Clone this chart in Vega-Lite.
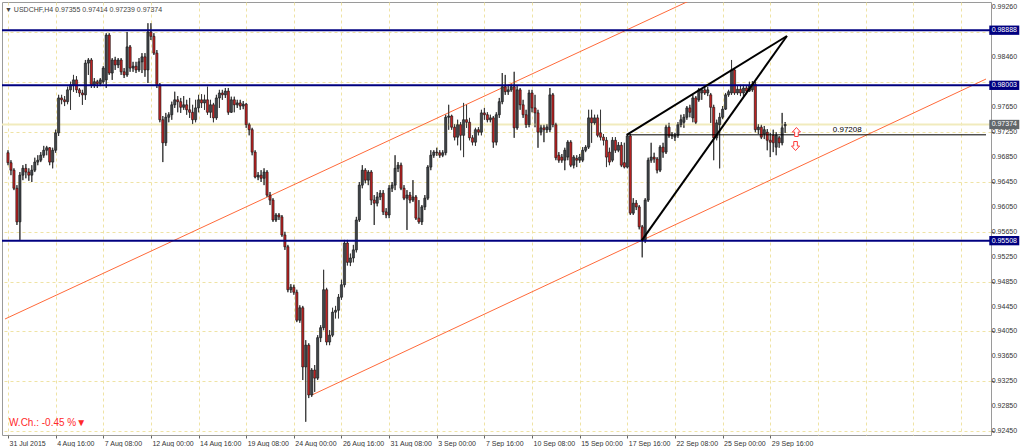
{
  "$schema": "https://vega.github.io/schema/vega-lite/v6.json",
  "width": 989,
  "height": 433,
  "autosize": "none",
  "padding": {"left": 2, "top": 2, "right": 33, "bottom": 12},
  "background": "white",
  "title": {"text": "▼ USDCHF,H4  0.97355 0.97414 0.97239 0.97374", "anchor": "start", "frame": "group", "orient": "top", "offset": -11, "dx": 3, "font": "Liberation Sans", "fontSize": 7, "fontWeight": "normal", "color": "#444444"},
  "config": {"view": {"stroke": "#9a9a9a", "strokeWidth": 1}, "text": {"font": "Liberation Sans"}, "axis": {"labelOverlap": false, "labelBound": false}},
  "datasets": {
    "candles": [
      {"i":0,"o":0.9692,"h":0.9696,"l":0.9672,"c":0.9676},
      {"i":1,"o":0.9676,"h":0.9680,"l":0.9656,"c":0.9664},
      {"i":2,"o":0.9664,"h":0.9667,"l":0.9632,"c":0.9635},
      {"i":3,"o":0.9635,"h":0.9640,"l":0.9576,"c":0.9581},
      {"i":4,"o":0.9581,"h":0.9661,"l":0.9552,"c":0.9656},
      {"i":5,"o":0.9656,"h":0.9672,"l":0.9648,"c":0.9667},
      {"i":6,"o":0.9667,"h":0.9674,"l":0.9651,"c":0.9661},
      {"i":7,"o":0.9661,"h":0.9667,"l":0.9647,"c":0.9656},
      {"i":8,"o":0.9656,"h":0.9672,"l":0.9645,"c":0.9664},
      {"i":9,"o":0.9664,"h":0.9684,"l":0.9661,"c":0.9677},
      {"i":10,"o":0.9677,"h":0.9688,"l":0.9672,"c":0.9680},
      {"i":11,"o":0.9680,"h":0.9693,"l":0.9677,"c":0.9688},
      {"i":12,"o":0.9688,"h":0.9703,"l":0.9684,"c":0.9696},
      {"i":13,"o":0.9696,"h":0.9703,"l":0.9688,"c":0.9700},
      {"i":14,"o":0.9700,"h":0.9701,"l":0.9672,"c":0.9677},
      {"i":15,"o":0.9677,"h":0.9700,"l":0.9667,"c":0.9696},
      {"i":16,"o":0.9696,"h":0.9729,"l":0.9692,"c":0.9724},
      {"i":17,"o":0.9724,"h":0.9785,"l":0.9719,"c":0.9780},
      {"i":18,"o":0.9780,"h":0.9785,"l":0.9770,"c":0.9777},
      {"i":19,"o":0.9777,"h":0.9783,"l":0.9767,"c":0.9774},
      {"i":20,"o":0.9774,"h":0.9798,"l":0.9770,"c":0.9793},
      {"i":21,"o":0.9793,"h":0.9806,"l":0.9761,"c":0.9801},
      {"i":22,"o":0.9801,"h":0.9817,"l":0.9790,"c":0.9809},
      {"i":23,"o":0.9809,"h":0.9815,"l":0.9788,"c":0.9793},
      {"i":24,"o":0.9793,"h":0.9796,"l":0.9782,"c":0.9788},
      {"i":25,"o":0.9788,"h":0.9793,"l":0.9769,"c":0.9785},
      {"i":26,"o":0.9785,"h":0.9841,"l":0.9777,"c":0.9836},
      {"i":27,"o":0.9836,"h":0.9844,"l":0.9817,"c":0.9841},
      {"i":28,"o":0.9841,"h":0.9844,"l":0.9796,"c":0.9801},
      {"i":29,"o":0.9801,"h":0.9812,"l":0.9796,"c":0.9806},
      {"i":30,"o":0.9806,"h":0.9809,"l":0.9796,"c":0.9803},
      {"i":31,"o":0.9803,"h":0.9812,"l":0.9799,"c":0.9809},
      {"i":32,"o":0.9806,"h":0.9831,"l":0.9803,"c":0.9828},
      {"i":33,"o":0.9809,"h":0.9884,"l":0.9796,"c":0.9881},
      {"i":34,"o":0.9881,"h":0.9884,"l":0.9817,"c":0.9820},
      {"i":35,"o":0.9820,"h":0.9844,"l":0.9809,"c":0.9841},
      {"i":36,"o":0.9841,"h":0.9846,"l":0.9825,"c":0.9833},
      {"i":37,"o":0.9833,"h":0.9844,"l":0.9828,"c":0.9841},
      {"i":38,"o":0.9841,"h":0.9844,"l":0.9817,"c":0.9822},
      {"i":39,"o":0.9822,"h":0.9828,"l":0.9812,"c":0.9817},
      {"i":40,"o":0.9817,"h":0.9886,"l":0.9814,"c":0.9862},
      {"i":41,"o":0.9862,"h":0.9865,"l":0.9822,"c":0.9828},
      {"i":42,"o":0.9828,"h":0.9838,"l":0.9822,"c":0.9831},
      {"i":43,"o":0.9831,"h":0.9838,"l":0.9820,"c":0.9825},
      {"i":44,"o":0.9825,"h":0.9844,"l":0.9822,"c":0.9838},
      {"i":45,"o":0.9838,"h":0.9852,"l":0.9820,"c":0.9846},
      {"i":46,"o":0.9846,"h":0.9852,"l":0.9814,"c":0.9825},
      {"i":47,"o":0.9825,"h":0.9900,"l":0.9804,"c":0.9886},
      {"i":48,"o":0.9886,"h":0.9900,"l":0.9873,"c":0.9879},
      {"i":49,"o":0.9879,"h":0.9884,"l":0.9849,"c":0.9852},
      {"i":50,"o":0.9852,"h":0.9857,"l":0.9796,"c":0.9801},
      {"i":51,"o":0.9801,"h":0.9804,"l":0.9741,"c":0.9745},
      {"i":52,"o":0.9745,"h":0.9751,"l":0.9677,"c":0.9708},
      {"i":53,"o":0.9708,"h":0.9756,"l":0.9703,"c":0.9749},
      {"i":54,"o":0.9749,"h":0.9757,"l":0.9741,"c":0.9753},
      {"i":55,"o":0.9753,"h":0.9774,"l":0.9745,"c":0.9769},
      {"i":56,"o":0.9769,"h":0.9790,"l":0.9764,"c":0.9777},
      {"i":57,"o":0.9777,"h":0.9783,"l":0.9757,"c":0.9774},
      {"i":58,"o":0.9774,"h":0.9780,"l":0.9756,"c":0.9765},
      {"i":59,"o":0.9765,"h":0.9783,"l":0.9761,"c":0.9769},
      {"i":60,"o":0.9769,"h":0.9777,"l":0.9753,"c":0.9761},
      {"i":61,"o":0.9761,"h":0.9780,"l":0.9748,"c":0.9757},
      {"i":62,"o":0.9757,"h":0.9769,"l":0.9738,"c":0.9745},
      {"i":63,"o":0.9745,"h":0.9777,"l":0.9741,"c":0.9764},
      {"i":64,"o":0.9764,"h":0.9785,"l":0.9757,"c":0.9777},
      {"i":65,"o":0.9777,"h":0.9786,"l":0.9764,"c":0.9772},
      {"i":66,"o":0.9772,"h":0.9785,"l":0.9761,"c":0.9777},
      {"i":67,"o":0.9777,"h":0.9798,"l":0.9753,"c":0.9757},
      {"i":68,"o":0.9757,"h":0.9777,"l":0.9748,"c":0.9769},
      {"i":69,"o":0.9769,"h":0.9772,"l":0.9741,"c":0.9748},
      {"i":70,"o":0.9748,"h":0.9785,"l":0.9745,"c":0.9780},
      {"i":71,"o":0.9780,"h":0.9793,"l":0.9764,"c":0.9788},
      {"i":72,"o":0.9788,"h":0.9793,"l":0.9777,"c":0.9785},
      {"i":73,"o":0.9785,"h":0.9796,"l":0.9780,"c":0.9791},
      {"i":74,"o":0.9791,"h":0.9796,"l":0.9753,"c":0.9757},
      {"i":75,"o":0.9757,"h":0.9782,"l":0.9756,"c":0.9777},
      {"i":76,"o":0.9777,"h":0.9782,"l":0.9757,"c":0.9769},
      {"i":77,"o":0.9769,"h":0.9777,"l":0.9764,"c":0.9772},
      {"i":78,"o":0.9772,"h":0.9777,"l":0.9761,"c":0.9767},
      {"i":79,"o":0.9767,"h":0.9775,"l":0.9762,"c":0.9770},
      {"i":80,"o":0.9770,"h":0.9772,"l":0.9732,"c":0.9737},
      {"i":81,"o":0.9737,"h":0.9740,"l":0.9720,"c":0.9729},
      {"i":82,"o":0.9729,"h":0.9732,"l":0.9688,"c":0.9693},
      {"i":83,"o":0.9693,"h":0.9696,"l":0.9651,"c":0.9653},
      {"i":84,"o":0.9653,"h":0.9661,"l":0.9648,"c":0.9656},
      {"i":85,"o":0.9656,"h":0.9664,"l":0.9645,"c":0.9651},
      {"i":86,"o":0.9651,"h":0.9667,"l":0.9640,"c":0.9661},
      {"i":87,"o":0.9661,"h":0.9664,"l":0.9621,"c":0.9624},
      {"i":88,"o":0.9624,"h":0.9629,"l":0.9608,"c":0.9616},
      {"i":89,"o":0.9616,"h":0.9619,"l":0.9581,"c":0.9584},
      {"i":90,"o":0.9584,"h":0.9595,"l":0.9581,"c":0.9592},
      {"i":91,"o":0.9592,"h":0.9595,"l":0.9584,"c":0.9589},
      {"i":92,"o":0.9589,"h":0.9592,"l":0.9557,"c":0.9560},
      {"i":93,"o":0.9560,"h":0.9565,"l":0.9536,"c":0.9541},
      {"i":94,"o":0.9541,"h":0.9544,"l":0.9468,"c":0.9472},
      {"i":95,"o":0.9472,"h":0.9481,"l":0.9467,"c":0.9476},
      {"i":96,"o":0.9476,"h":0.9480,"l":0.9464,"c":0.9468},
      {"i":97,"o":0.9468,"h":0.9472,"l":0.9420,"c":0.9423},
      {"i":98,"o":0.9423,"h":0.9447,"l":0.9419,"c":0.9443},
      {"i":99,"o":0.9443,"h":0.9446,"l":0.9327,"c":0.9348},
      {"i":100,"o":0.9348,"h":0.9391,"l":0.9260,"c":0.9383},
      {"i":101,"o":0.9383,"h":0.9386,"l":0.9298,"c":0.9303},
      {"i":102,"o":0.9303,"h":0.9346,"l":0.9300,"c":0.9343},
      {"i":103,"o":0.9343,"h":0.9351,"l":0.9308,"c":0.9330},
      {"i":104,"o":0.9330,"h":0.9399,"l":0.9327,"c":0.9395},
      {"i":105,"o":0.9395,"h":0.9415,"l":0.9388,"c":0.9411},
      {"i":106,"o":0.9411,"h":0.9504,"l":0.9407,"c":0.9472},
      {"i":107,"o":0.9472,"h":0.9475,"l":0.9383,"c":0.9388},
      {"i":108,"o":0.9388,"h":0.9407,"l":0.9383,"c":0.9399},
      {"i":109,"o":0.9399,"h":0.9443,"l":0.9396,"c":0.9436},
      {"i":110,"o":0.9436,"h":0.9446,"l":0.9426,"c":0.9439},
      {"i":111,"o":0.9439,"h":0.9465,"l":0.9426,"c":0.9460},
      {"i":112,"o":0.9460,"h":0.9488,"l":0.9456,"c":0.9480},
      {"i":113,"o":0.9480,"h":0.9552,"l":0.9476,"c":0.9547},
      {"i":114,"o":0.9547,"h":0.9552,"l":0.9511,"c":0.9516},
      {"i":115,"o":0.9516,"h":0.9530,"l":0.9510,"c":0.9523},
      {"i":116,"o":0.9523,"h":0.9544,"l":0.9516,"c":0.9536},
      {"i":117,"o":0.9536,"h":0.9589,"l":0.9532,"c":0.9584},
      {"i":118,"o":0.9584,"h":0.9645,"l":0.9581,"c":0.9640},
      {"i":119,"o":0.9640,"h":0.9672,"l":0.9635,"c":0.9664},
      {"i":120,"o":0.9664,"h":0.9667,"l":0.9643,"c":0.9648},
      {"i":121,"o":0.9648,"h":0.9664,"l":0.9640,"c":0.9661},
      {"i":122,"o":0.9661,"h":0.9664,"l":0.9608,"c":0.9616},
      {"i":123,"o":0.9616,"h":0.9624,"l":0.9576,"c":0.9611},
      {"i":124,"o":0.9611,"h":0.9629,"l":0.9606,"c":0.9621},
      {"i":125,"o":0.9621,"h":0.9632,"l":0.9616,"c":0.9627},
      {"i":126,"o":0.9627,"h":0.9632,"l":0.9592,"c":0.9597},
      {"i":127,"o":0.9597,"h":0.9603,"l":0.9587,"c":0.9592},
      {"i":128,"o":0.9592,"h":0.9640,"l":0.9587,"c":0.9635},
      {"i":129,"o":0.9635,"h":0.9645,"l":0.9629,"c":0.9640},
      {"i":130,"o":0.9640,"h":0.9688,"l":0.9632,"c":0.9667},
      {"i":131,"o":0.9667,"h":0.9677,"l":0.9661,"c":0.9672},
      {"i":132,"o":0.9672,"h":0.9676,"l":0.9632,"c":0.9635},
      {"i":133,"o":0.9635,"h":0.9640,"l":0.9616,"c":0.9619},
      {"i":134,"o":0.9619,"h":0.9632,"l":0.9568,"c":0.9624},
      {"i":135,"o":0.9624,"h":0.9629,"l":0.9611,"c":0.9616},
      {"i":136,"o":0.9616,"h":0.9648,"l":0.9613,"c":0.9621},
      {"i":137,"o":0.9621,"h":0.9624,"l":0.9584,"c":0.9587},
      {"i":138,"o":0.9587,"h":0.9616,"l":0.9578,"c":0.9581},
      {"i":139,"o":0.9581,"h":0.9608,"l":0.9576,"c":0.9605},
      {"i":140,"o":0.9605,"h":0.9624,"l":0.9600,"c":0.9619},
      {"i":141,"o":0.9619,"h":0.9672,"l":0.9616,"c":0.9669},
      {"i":142,"o":0.9669,"h":0.9696,"l":0.9664,"c":0.9688},
      {"i":143,"o":0.9688,"h":0.9696,"l":0.9684,"c":0.9693},
      {"i":144,"o":0.9693,"h":0.9700,"l":0.9687,"c":0.9692},
      {"i":145,"o":0.9692,"h":0.9696,"l":0.9684,"c":0.9688},
      {"i":146,"o":0.9688,"h":0.9696,"l":0.9685,"c":0.9692},
      {"i":147,"o":0.9692,"h":0.9753,"l":0.9688,"c":0.9749},
      {"i":148,"o":0.9749,"h":0.9769,"l":0.9729,"c":0.9751},
      {"i":149,"o":0.9751,"h":0.9753,"l":0.9729,"c":0.9733},
      {"i":150,"o":0.9733,"h":0.9738,"l":0.9712,"c":0.9717},
      {"i":151,"o":0.9717,"h":0.9745,"l":0.9704,"c":0.9737},
      {"i":152,"o":0.9737,"h":0.9741,"l":0.9696,"c":0.9720},
      {"i":153,"o":0.9720,"h":0.9772,"l":0.9685,"c":0.9745},
      {"i":154,"o":0.9745,"h":0.9769,"l":0.9732,"c":0.9741},
      {"i":155,"o":0.9741,"h":0.9748,"l":0.9712,"c":0.9716},
      {"i":156,"o":0.9716,"h":0.9720,"l":0.9704,"c":0.9709},
      {"i":157,"o":0.9709,"h":0.9732,"l":0.9703,"c":0.9729},
      {"i":158,"o":0.9729,"h":0.9733,"l":0.9720,"c":0.9725},
      {"i":159,"o":0.9725,"h":0.9761,"l":0.9720,"c":0.9756},
      {"i":160,"o":0.9756,"h":0.9764,"l":0.9745,"c":0.9753},
      {"i":161,"o":0.9753,"h":0.9757,"l":0.9741,"c":0.9745},
      {"i":162,"o":0.9745,"h":0.9753,"l":0.9741,"c":0.9748},
      {"i":163,"o":0.9748,"h":0.9751,"l":0.9700,"c":0.9709},
      {"i":164,"o":0.9709,"h":0.9757,"l":0.9704,"c":0.9753},
      {"i":165,"o":0.9753,"h":0.9780,"l":0.9748,"c":0.9774},
      {"i":166,"o":0.9774,"h":0.9820,"l":0.9770,"c":0.9798},
      {"i":167,"o":0.9798,"h":0.9817,"l":0.9785,"c":0.9790},
      {"i":168,"o":0.9790,"h":0.9799,"l":0.9785,"c":0.9793},
      {"i":169,"o":0.9793,"h":0.9802,"l":0.9790,"c":0.9798},
      {"i":170,"o":0.9798,"h":0.9822,"l":0.9716,"c":0.9732},
      {"i":171,"o":0.9732,"h":0.9799,"l":0.9729,"c":0.9793},
      {"i":172,"o":0.9793,"h":0.9796,"l":0.9761,"c":0.9769},
      {"i":173,"o":0.9769,"h":0.9777,"l":0.9748,"c":0.9753},
      {"i":174,"o":0.9753,"h":0.9761,"l":0.9732,"c":0.9737},
      {"i":175,"o":0.9737,"h":0.9793,"l":0.9733,"c":0.9788},
      {"i":176,"o":0.9788,"h":0.9793,"l":0.9757,"c":0.9764},
      {"i":177,"o":0.9764,"h":0.9785,"l":0.9733,"c":0.9756},
      {"i":178,"o":0.9756,"h":0.9761,"l":0.9700,"c":0.9725},
      {"i":179,"o":0.9725,"h":0.9737,"l":0.9720,"c":0.9732},
      {"i":180,"o":0.9732,"h":0.9737,"l":0.9709,"c":0.9729},
      {"i":181,"o":0.9729,"h":0.9738,"l":0.9724,"c":0.9733},
      {"i":182,"o":0.9729,"h":0.9796,"l":0.9725,"c":0.9785},
      {"i":183,"o":0.9785,"h":0.9788,"l":0.9733,"c":0.9737},
      {"i":184,"o":0.9737,"h":0.9740,"l":0.9680,"c":0.9684},
      {"i":185,"o":0.9688,"h":0.9693,"l":0.9676,"c":0.9680},
      {"i":186,"o":0.9685,"h":0.9690,"l":0.9676,"c":0.9680},
      {"i":187,"o":0.9680,"h":0.9700,"l":0.9664,"c":0.9696},
      {"i":188,"o":0.9685,"h":0.9712,"l":0.9680,"c":0.9709},
      {"i":189,"o":0.9709,"h":0.9712,"l":0.9669,"c":0.9672},
      {"i":190,"o":0.9672,"h":0.9688,"l":0.9667,"c":0.9685},
      {"i":191,"o":0.9683,"h":0.9688,"l":0.9669,"c":0.9680},
      {"i":192,"o":0.9680,"h":0.9690,"l":0.9676,"c":0.9685},
      {"i":193,"o":0.9680,"h":0.9701,"l":0.9677,"c":0.9696},
      {"i":194,"o":0.9696,"h":0.9704,"l":0.9693,"c":0.9701},
      {"i":195,"o":0.9701,"h":0.9761,"l":0.9698,"c":0.9748},
      {"i":196,"o":0.9748,"h":0.9761,"l":0.9708,"c":0.9740},
      {"i":197,"o":0.9740,"h":0.9753,"l":0.9737,"c":0.9748},
      {"i":198,"o":0.9748,"h":0.9753,"l":0.9717,"c":0.9720},
      {"i":199,"o":0.9724,"h":0.9761,"l":0.9712,"c":0.9717},
      {"i":200,"o":0.9717,"h":0.9722,"l":0.9704,"c":0.9712},
      {"i":201,"o":0.9712,"h":0.9717,"l":0.9669,"c":0.9685},
      {"i":202,"o":0.9693,"h":0.9700,"l":0.9672,"c":0.9677},
      {"i":203,"o":0.9680,"h":0.9717,"l":0.9677,"c":0.9712},
      {"i":204,"o":0.9712,"h":0.9717,"l":0.9692,"c":0.9696},
      {"i":205,"o":0.9696,"h":0.9709,"l":0.9693,"c":0.9704},
      {"i":206,"o":0.9704,"h":0.9709,"l":0.9669,"c":0.9672},
      {"i":207,"o":0.9676,"h":0.9708,"l":0.9667,"c":0.9669},
      {"i":208,"o":0.9669,"h":0.9722,"l":0.9667,"c":0.9719},
      {"i":209,"o":0.9719,"h":0.9722,"l":0.9592,"c":0.9595},
      {"i":210,"o":0.9595,"h":0.9619,"l":0.9592,"c":0.9611},
      {"i":211,"o":0.9611,"h":0.9616,"l":0.9600,"c":0.9605},
      {"i":212,"o":0.9605,"h":0.9608,"l":0.9569,"c":0.9573},
      {"i":213,"o":0.9573,"h":0.9576,"l":0.9524,"c":0.9552},
      {"i":214,"o":0.9552,"h":0.9619,"l":0.9547,"c":0.9616},
      {"i":215,"o":0.9616,"h":0.9684,"l":0.9613,"c":0.9680},
      {"i":216,"o":0.9680,"h":0.9708,"l":0.9676,"c":0.9685},
      {"i":217,"o":0.9685,"h":0.9692,"l":0.9676,"c":0.9682},
      {"i":218,"o":0.9682,"h":0.9685,"l":0.9659,"c":0.9664},
      {"i":219,"o":0.9664,"h":0.9704,"l":0.9661,"c":0.9701},
      {"i":220,"o":0.9701,"h":0.9708,"l":0.9684,"c":0.9693},
      {"i":221,"o":0.9693,"h":0.9737,"l":0.9690,"c":0.9733},
      {"i":222,"o":0.9733,"h":0.9740,"l":0.9716,"c":0.9719},
      {"i":223,"o":0.9719,"h":0.9725,"l":0.9714,"c":0.9720},
      {"i":224,"o":0.9717,"h":0.9724,"l":0.9711,"c":0.9720},
      {"i":225,"o":0.9720,"h":0.9741,"l":0.9716,"c":0.9737},
      {"i":226,"o":0.9737,"h":0.9753,"l":0.9733,"c":0.9745},
      {"i":227,"o":0.9741,"h":0.9754,"l":0.9732,"c":0.9749},
      {"i":228,"o":0.9749,"h":0.9767,"l":0.9745,"c":0.9764},
      {"i":229,"o":0.9764,"h":0.9769,"l":0.9749,"c":0.9757},
      {"i":230,"o":0.9748,"h":0.9785,"l":0.9741,"c":0.9780},
      {"i":231,"o":0.9780,"h":0.9783,"l":0.9738,"c":0.9741},
      {"i":232,"o":0.9777,"h":0.9796,"l":0.9774,"c":0.9793},
      {"i":233,"o":0.9788,"h":0.9796,"l":0.9777,"c":0.9793},
      {"i":234,"o":0.9793,"h":0.9799,"l":0.9785,"c":0.9788},
      {"i":235,"o":0.9788,"h":0.9798,"l":0.9783,"c":0.9793},
      {"i":236,"o":0.9785,"h":0.9788,"l":0.9740,"c":0.9765},
      {"i":237,"o":0.9765,"h":0.9769,"l":0.9680,"c":0.9716},
      {"i":238,"o":0.9716,"h":0.9745,"l":0.9712,"c":0.9740},
      {"i":239,"o":0.9737,"h":0.9756,"l":0.9667,"c":0.9749},
      {"i":240,"o":0.9749,"h":0.9767,"l":0.9746,"c":0.9762},
      {"i":241,"o":0.9762,"h":0.9788,"l":0.9761,"c":0.9785},
      {"i":242,"o":0.9785,"h":0.9793,"l":0.9782,"c":0.9790},
      {"i":243,"o":0.9788,"h":0.9841,"l":0.9785,"c":0.9825},
      {"i":244,"o":0.9825,"h":0.9828,"l":0.9785,"c":0.9788},
      {"i":245,"o":0.9788,"h":0.9799,"l":0.9785,"c":0.9794},
      {"i":246,"o":0.9794,"h":0.9801,"l":0.9783,"c":0.9788},
      {"i":247,"o":0.9788,"h":0.9801,"l":0.9783,"c":0.9796},
      {"i":248,"o":0.9796,"h":0.9799,"l":0.9786,"c":0.9791},
      {"i":249,"o":0.9791,"h":0.9806,"l":0.9790,"c":0.9799},
      {"i":250,"o":0.9793,"h":0.9807,"l":0.9790,"c":0.9802},
      {"i":251,"o":0.9802,"h":0.9806,"l":0.9725,"c":0.9729},
      {"i":252,"o":0.9729,"h":0.9738,"l":0.9722,"c":0.9733},
      {"i":253,"o":0.9733,"h":0.9737,"l":0.9714,"c":0.9717},
      {"i":254,"o":0.9722,"h":0.9735,"l":0.9714,"c":0.9729},
      {"i":255,"o":0.9725,"h":0.9730,"l":0.9696,"c":0.9712},
      {"i":256,"o":0.9712,"h":0.9724,"l":0.9685,"c":0.9709},
      {"i":257,"o":0.9720,"h":0.9729,"l":0.9693,"c":0.9708},
      {"i":258,"o":0.9701,"h":0.9725,"l":0.9688,"c":0.9720},
      {"i":259,"o":0.9716,"h":0.9719,"l":0.9700,"c":0.9708},
      {"i":260,"o":0.9708,"h":0.9756,"l":0.9704,"c":0.9732},
      {"i":261,"o":0.97355,"h":0.97414,"l":0.97239,"c":0.97374}
    ],
    "levels": [{"p": 0.98888}, {"p": 0.98003}, {"p": 0.95508}],
    "ticks": [{"p": 0.9245}, {"p": 0.9285}, {"p": 0.9325}, {"p": 0.9365}, {"p": 0.9405}, {"p": 0.9445}, {"p": 0.9485}, {"p": 0.9525}, {"p": 0.9565}, {"p": 0.9605}, {"p": 0.9645}, {"p": 0.9685}, {"p": 0.9725}, {"p": 0.9765}, {"p": 0.9846}, {"p": 0.9926}],
    "channel": [
      {"g": "upper", "i": -0.997, "p": 0.9425},
      {"g": "upper", "i": 229.4, "p": 0.99373},
      {"g": "lower", "i": 102.06, "p": 0.93029},
      {"g": "lower", "i": 328.46, "p": 0.98104}
    ],
    "wedge": [
      {"g": "top", "i": 207.8, "p": 0.97208},
      {"g": "top", "i": 261.6, "p": 0.98795},
      {"g": "bottom", "i": 212.8, "p": 0.95508},
      {"g": "bottom", "i": 261.6, "p": 0.98795}
    ]
  },
  "layer": [
    {
      "data": {"name": "candles"},
      "mark": {"type": "rule", "color": "#3a3a3a", "strokeWidth": 1},
      "encoding": {
        "x": {"field": "i", "type": "quantitative", "title": null,
          "scale": {"domain": [-0.3325, 328.46], "nice": false, "zero": false},
          "axis": {
            "values": [0,8,16,24,32,40,48,56,64,72,80,88,96,104,112,120,128,136,144,152,160,168,176,184,192,200,208,216,224,232,240,248,256,264,272,280,288,296,304,312,320,328],
            "labelExpr": "(datum.value % 16 === 0 && datum.value <= 256) ? ['31 Jul 2015','4 Aug 16:00','7 Aug 08:00','12 Aug 00:00','14 Aug 16:00','19 Aug 08:00','24 Aug 00:00','26 Aug 16:00','31 Aug 08:00','3 Sep 00:00','7 Sep 16:00','10 Sep 08:00','15 Sep 00:00','17 Sep 16:00','22 Sep 08:00','25 Sep 00:00','29 Sep 16:00'][round(datum.value / 16)] : ''",
            "labelAlign": "left", "labelBaseline": "top", "labelFont": "Liberation Sans", "labelFontSize": 7, "labelColor": "#333333",
            "labelPadding": 1, "labelOffset": 1, "labelFlush": false, "labelOverlap": false, "labelBound": false,
            "tickSize": 3, "tickColor": "#666666",
            "tickOpacity": {"condition": {"test": "datum.value % 16 === 0 && datum.value <= 256", "value": 1}, "value": 0},
            "domain": false, "grid": true, "gridColor": "#efe3a4", "gridDash": [3, 3], "gridWidth": 1, "title": null
          }
        },
        "y": {"field": "l", "type": "quantitative", "title": null,
          "scale": {"domain": [0.92387, 0.99341], "nice": false, "zero": false},
          "axis": {
            "orient": "right",
            "values": [0.9245, 0.9285, 0.9325, 0.9365, 0.9405, 0.9445, 0.9485, 0.9525, 0.9565, 0.9605, 0.9645, 0.9685, 0.9725, 0.9765, 0.9806, 0.9846, 0.9886, 0.9926],
            "labels": false,
            "tickSize": 3, "tickColor": "#666666", "domain": false,
            "grid": true, "gridColor": "#efe3a4", "gridDash": [3, 3], "gridWidth": 1, "title": null
          }
        },
        "y2": {"field": "h"}
      }
    },
    {
      "data": {"values": [{"p": 0.97374}]},
      "mark": {"type": "rule", "color": "#f1ebbd", "strokeWidth": 2},
      "encoding": {
        "y": {"field": "p", "type": "quantitative", "title": null, "scale": {"domain": [0.92387, 0.99341], "nice": false, "zero": false}}
      }
    },
    {
      "data": {"name": "channel"},
      "mark": {"type": "line", "color": "#ff6a3a", "strokeWidth": 1, "clip": true},
      "encoding": {
        "x": {"field": "i", "type": "quantitative", "title": null, "scale": {"domain": [-0.3325, 328.46], "nice": false, "zero": false}},
        "y": {"field": "p", "type": "quantitative", "title": null, "scale": {"domain": [0.92387, 0.99341], "nice": false, "zero": false}},
        "detail": {"field": "g"}
      }
    },
    {
      "data": {"name": "candles"},
      "mark": {"type": "rule", "color": "#3a3a3a", "strokeWidth": 1},
      "encoding": {
        "x": {"field": "i", "type": "quantitative", "title": null, "scale": {"domain": [-0.3325, 328.46], "nice": false, "zero": false}},
        "y": {"field": "l", "type": "quantitative", "title": null, "scale": {"domain": [0.92387, 0.99341], "nice": false, "zero": false}},
        "y2": {"field": "h"}
      }
    },
    {
      "data": {"name": "candles"},
      "mark": {"type": "bar", "width": 2.2, "stroke": "#141414", "strokeWidth": 0.6},
      "encoding": {
        "x": {"field": "i", "type": "quantitative", "title": null, "scale": {"domain": [-0.3325, 328.46], "nice": false, "zero": false}},
        "y": {"field": "o", "type": "quantitative", "title": null, "scale": {"domain": [0.92387, 0.99341], "nice": false, "zero": false}},
        "y2": {"field": "c"},
        "color": {"condition": {"test": "datum.c < datum.o", "value": "#c12222"}, "value": "#40454a"}
      }
    },
    {
      "data": {"name": "levels"},
      "mark": {"type": "rule", "color": "#000080", "strokeWidth": 2},
      "encoding": {
        "y": {"field": "p", "type": "quantitative", "title": null, "scale": {"domain": [0.92387, 0.99341], "nice": false, "zero": false}}
      }
    },
    {
      "data": {"values": [{"p": 0.97208, "from": 207.8, "to": 328.46}]},
      "mark": {"type": "rule", "color": "#000000", "strokeWidth": 1},
      "encoding": {
        "x": {"field": "from", "type": "quantitative", "title": null, "scale": {"domain": [-0.3325, 328.46], "nice": false, "zero": false}},
        "x2": {"field": "to"},
        "y": {"field": "p", "type": "quantitative", "title": null, "scale": {"domain": [0.92387, 0.99341], "nice": false, "zero": false}}
      }
    },
    {
      "data": {"name": "wedge"},
      "mark": {"type": "line", "color": "#000000", "strokeWidth": 2},
      "encoding": {
        "x": {"field": "i", "type": "quantitative", "title": null, "scale": {"domain": [-0.3325, 328.46], "nice": false, "zero": false}},
        "y": {"field": "p", "type": "quantitative", "title": null, "scale": {"domain": [0.92387, 0.99341], "nice": false, "zero": false}},
        "detail": {"field": "g"}
      }
    },
    {
      "data": {"values": [{"p": 0.97208}]},
      "mark": {"type": "text", "align": "left", "baseline": "bottom", "dy": -1, "fontSize": 8, "color": "#000000", "font": "Liberation Sans"},
      "encoding": {
        "x": {"datum": 277, "type": "quantitative", "title": null, "scale": {"domain": [-0.3325, 328.46], "nice": false, "zero": false}},
        "y": {"field": "p", "type": "quantitative", "title": null, "scale": {"domain": [0.92387, 0.99341], "nice": false, "zero": false}},
        "text": {"field": "p", "format": ".5f"}
      }
    },
    {
      "data": {"values": [{"d": "up", "i": 264.8, "p": 0.97253}, {"d": "down", "i": 264.5, "p": 0.97028}]},
      "mark": {"type": "point", "filled": true, "fill": "#ffffff", "stroke": "#ff3b3b", "strokeWidth": 1, "size": 81, "opacity": 1},
      "encoding": {
        "x": {"field": "i", "type": "quantitative", "title": null, "scale": {"domain": [-0.3325, 328.46], "nice": false, "zero": false}},
        "y": {"field": "p", "type": "quantitative", "title": null, "scale": {"domain": [0.92387, 0.99341], "nice": false, "zero": false}},
        "shape": {"field": "d", "type": "nominal", "legend": null,
          "scale": {"domain": ["up", "down"], "range": ["M-0.4,1L-0.4,0L-0.9,0L0,-1L0.9,0L0.4,0L0.4,1Z", "M-0.4,-1L-0.4,0L-0.9,0L0,1L0.9,0L0.4,0L0.4,-1Z"]}}
      }
    },
    {
      "data": {"name": "ticks"},
      "mark": {"type": "text", "align": "left", "baseline": "middle", "fontSize": 7, "color": "#333333", "font": "Liberation Sans"},
      "encoding": {
        "x": {"datum": 330.4, "type": "quantitative", "title": null, "scale": {"domain": [-0.3325, 328.46], "nice": false, "zero": false}},
        "y": {"field": "p", "type": "quantitative", "title": null, "scale": {"domain": [0.92387, 0.99341], "nice": false, "zero": false}},
        "text": {"field": "p", "format": ".5f"}
      }
    },
    {
      "data": {"name": "levels"},
      "mark": {"type": "point", "filled": true, "color": "#000080", "opacity": 1, "size": 900, "shape": "M-1,-0.31L1,-0.31L1,0.31L-1,0.31Z"},
      "encoding": {
        "x": {"datum": 334.6, "type": "quantitative", "title": null, "scale": {"domain": [-0.3325, 328.46], "nice": false, "zero": false}},
        "y": {"field": "p", "type": "quantitative", "title": null, "scale": {"domain": [0.92387, 0.99341], "nice": false, "zero": false}}
      }
    },
    {
      "data": {"values": [{"p": 0.97374}]},
      "mark": {"type": "point", "filled": true, "color": "#62676b", "opacity": 1, "size": 900, "shape": "M-1,-0.31L1,-0.31L1,0.31L-1,0.31Z"},
      "encoding": {
        "x": {"datum": 334.6, "type": "quantitative", "title": null, "scale": {"domain": [-0.3325, 328.46], "nice": false, "zero": false}},
        "y": {"field": "p", "type": "quantitative", "title": null, "scale": {"domain": [0.92387, 0.99341], "nice": false, "zero": false}}
      }
    },
    {
      "data": {"values": [{"p": 0.98888}, {"p": 0.98003}, {"p": 0.95508}, {"p": 0.97374}]},
      "mark": {"type": "text", "align": "center", "baseline": "middle", "fontSize": 7, "color": "#ffffff", "font": "Liberation Sans"},
      "encoding": {
        "x": {"datum": 334.6, "type": "quantitative", "title": null, "scale": {"domain": [-0.3325, 328.46], "nice": false, "zero": false}},
        "y": {"field": "p", "type": "quantitative", "title": null, "scale": {"domain": [0.92387, 0.99341], "nice": false, "zero": false}},
        "text": {"field": "p", "format": ".5f"}
      }
    },
    {
      "data": {"values": [{"t": "W.Ch.: -0.45 %▼"}]},
      "mark": {"type": "text", "align": "left", "baseline": "middle", "fontSize": 10, "color": "#ff2a2a", "font": "Liberation Sans"},
      "encoding": {
        "x": {"datum": 0.33, "type": "quantitative", "title": null, "scale": {"domain": [-0.3325, 328.46], "nice": false, "zero": false}},
        "y": {"datum": 0.9258, "type": "quantitative", "title": null, "scale": {"domain": [0.92387, 0.99341], "nice": false, "zero": false}},
        "text": {"field": "t"}
      }
    }
  ]
}
